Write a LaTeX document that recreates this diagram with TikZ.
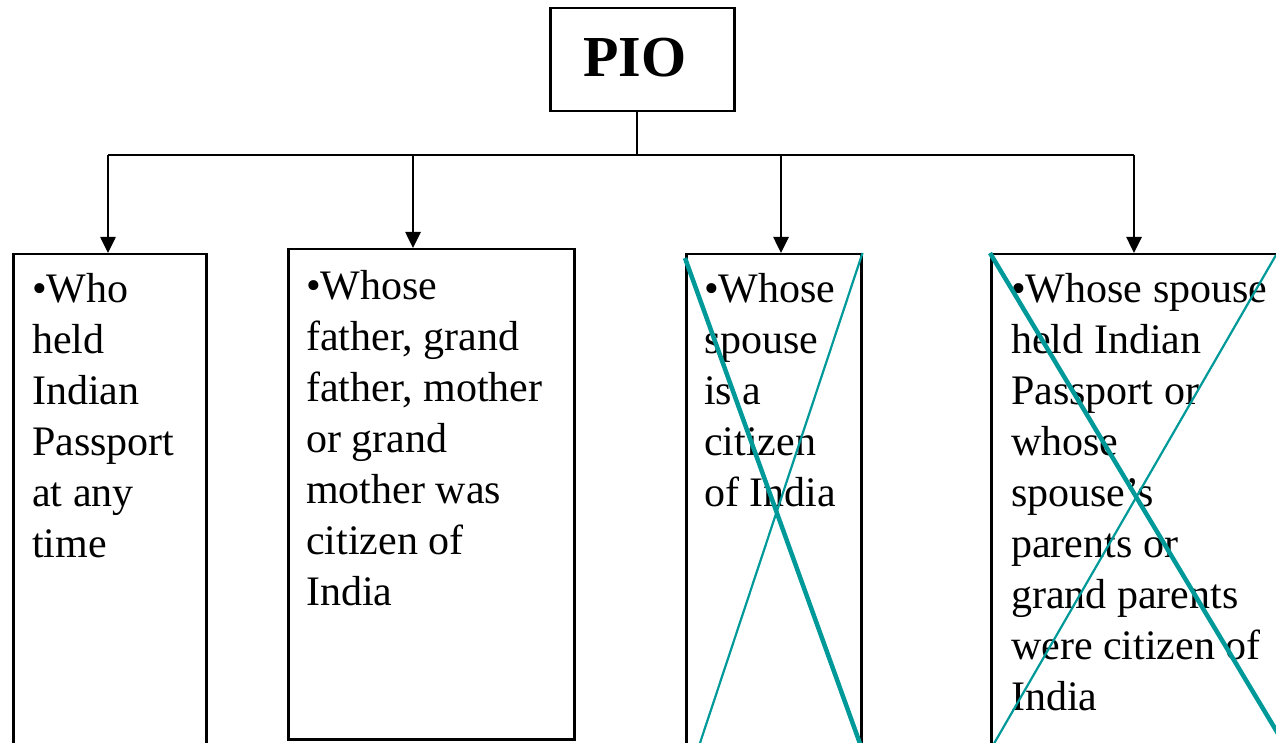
\documentclass[tikz,border=0pt]{standalone}
\usepackage{fontspec}
\setmainfont{Liberation Serif}
\usetikzlibrary{arrows.meta}
\definecolor{strike}{RGB}{0,153,153}
% interword spaces of natural width only
\newcommand{\rigidspaces}{\spaceskip=\fontdimen2\font\relax}
\tikzset{
  box/.style={draw=black, line width=2.5pt, anchor=north west, inner sep=0pt},
  bodytext/.style={anchor=base west, inner sep=0pt, align=left, text width=300pt,
    font=\fontsize{42pt}{51pt}\selectfont, execute at begin node=\rigidspaces},
  link/.style={line width=2.6pt},
  arrow/.style={link, -{Triangle[width=15pt,length=16pt]}},
  crossthick/.style={draw=strike, line width=4.5pt},
  crossthin/.style={draw=strike, line width=2.2pt}
}
\begin{document}
\begin{tikzpicture}[x=1pt, y=-1pt]
\useasboundingbox (0,0) rectangle (1276,743);

% heading box
\node[box, minimum width=184pt, minimum height=103pt] (pio) at (549,7) {};
\node[font=\fontsize{58pt}{58pt}\selectfont\bfseries, anchor=base] (piotext) at (635,77) {PIO};

% four category boxes
\node[box, minimum width=193pt, minimum height=495pt] (b1) at (12,253) {};
\node[box, minimum width=286pt, minimum height=490pt] (b2) at (287,248) {};
\node[box, minimum width=175pt, minimum height=495pt] (b3) at (685,253) {};
\node[box, minimum width=320pt, minimum height=495pt] (b4) at (990,253) {};

% texts
\node[bodytext] (t1) at (32,302) {•Who\\held\\Indian\\Passport\\at any\\time};
\node[bodytext] (t2) at (306,299) {•Whose\\father, grand\\father, mother\\or grand\\mother was\\citizen of\\India};
\node[bodytext] (t3) at (704,302) {•Whose\\spouse\\is a\\citizen\\of India};
\node[bodytext] (t4) at (1011,302) {•Whose spouse\\held Indian\\Passport or\\whose\\spouse's\\parents or\\grand parents\\were citizen of\\India};

% distribution bus
\coordinate (hub) at (637,155);
\coordinate (d1) at (108,155);
\coordinate (d2) at (413,155);
\coordinate (d3) at (781,155);
\coordinate (d4) at (1134,155);
\draw[link] (hub |- pio.south) -- (hub);
\draw[link] (d1) -- (d4);
\draw[arrow] (d1) -- (d1 |- b1.north);
\draw[arrow] (d2) -- (d2 |- b2.north);
\draw[arrow] (d3) -- (d3 |- b3.north);
\draw[arrow] (d4) -- (d4 |- b4.north);

% strike-through crosses
\coordinate (c3a) at (700,743);
\coordinate (c3b) at (685,258);
\coordinate (c4a) at (1276,255);
\coordinate (c4b) at (1283,742);
\draw[crossthin] (b3.north east) -- (c3a);
\draw[crossthick] (c3b) -- (b3.south east);
\draw[crossthin] (c4a) -- (b4.south west);
\draw[crossthick] (b4.north west) -- (c4b);
\end{tikzpicture}
\end{document}
